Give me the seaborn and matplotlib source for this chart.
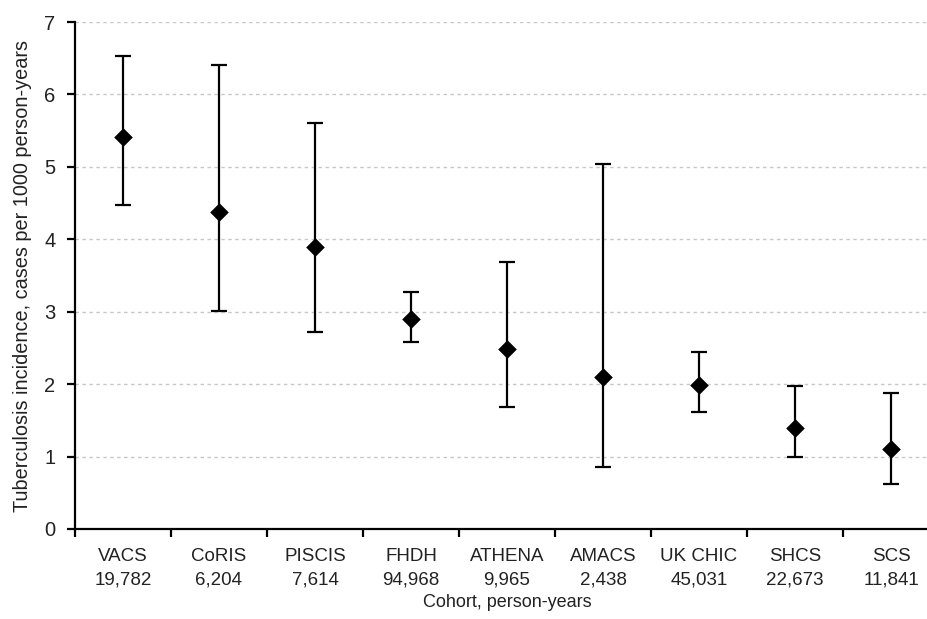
import matplotlib
matplotlib.use("Agg")
import matplotlib.pyplot as plt
import seaborn as sns
import pandas as pd
import numpy as np

cohorts = ["VACS", "CoRIS", "PISCIS", "FHDH", "ATHENA", "AMACS", "UK CHIC", "SHCS", "SCS"]
person_years = ["19,782", "6,204", "7,614", "94,968", "9,965", "2,438", "45,031", "22,673", "11,841"]
incidence = [5.41, 4.38, 3.89, 2.90, 2.49, 2.10, 1.99, 1.39, 1.10]
ci_lower = [4.48, 3.01, 2.72, 2.58, 1.68, 0.86, 1.62, 0.99, 0.62]
ci_upper = [6.53, 6.41, 5.60, 3.27, 3.69, 5.04, 2.45, 1.98, 1.88]

df = pd.DataFrame({"cohort": cohorts, "incidence": incidence,
                   "lo": ci_lower, "hi": ci_upper})
df["pos"] = np.arange(len(df))

sns.set_style("white")
plt.rcParams["font.family"] = ["Liberation Sans", "DejaVu Sans"]

fig = plt.figure(figsize=(9.27, 6.19), dpi=100)
ax = fig.add_axes([75 / 927, 1 - 529 / 619, 864 / 927, 507 / 619])

ax.errorbar(df["pos"], df["incidence"],
            yerr=[df["incidence"] - df["lo"], df["hi"] - df["incidence"]],
            fmt="none", ecolor="black", elinewidth=1.6, capsize=5.5, capthick=1.6, zorder=3)
sns.scatterplot(data=df, x="pos", y="incidence", marker="D", s=90, color="black",
                edgecolor="black", linewidth=0, ax=ax, zorder=4, legend=False)

ax.set_xlim(-0.5, len(df) - 0.5)
ax.set_ylim(0, 7)
ax.set_yticks(range(0, 8))
ax.yaxis.grid(True, linestyle=(0, (2.5, 2.5)), color="#c8c8c8", linewidth=1)
ax.set_axisbelow(True)

ax.set_xticks(np.arange(-0.5, len(df) - 0.5, 1.0))
ax.set_xticklabels([])
ax.set_xticks(np.arange(len(df)), minor=True)
ax.set_xticklabels([f"{c}\n{p}" for c, p in zip(cohorts, person_years)], minor=True,
                   linespacing=1.45)
ax.tick_params(axis="x", which="major", bottom=True, length=6, width=1.6, direction="out", color="black")
ax.tick_params(axis="x", which="minor", bottom=True, length=0, pad=14, labelsize=13.5, labelcolor="#222222")
ax.tick_params(axis="y", left=True, length=6, width=1.6, direction="out", color="black",
               labelsize=14.5, labelcolor="#222222", pad=8)

for s in ["top", "right"]:
    ax.spines[s].set_visible(False)
for s in ["left", "bottom"]:
    ax.spines[s].set_linewidth(1.6)
    ax.spines[s].set_color("black")

ax.set_xlabel("Cohort, person-years", fontsize=13, color="#222222", labelpad=4)
ax.set_ylabel("Tuberculosis incidence, cases per 1000 person-years", fontsize=14.3, color="#222222", labelpad=9)

fig.savefig("out.png", dpi=100)
